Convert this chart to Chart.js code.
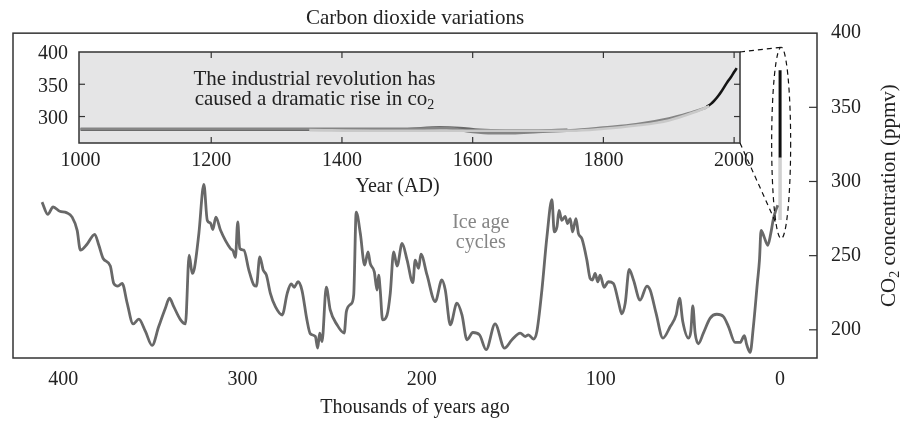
<!DOCTYPE html>
<html><head><meta charset="utf-8">
<script src="https://cdn.jsdelivr.net/npm/chart.js@4.4.1/dist/chart.umd.min.js"></script>
<style>
html,body{margin:0;padding:0;background:#fff;}
#wrap{position:relative;width:903px;height:422px;}
canvas{position:absolute;left:0;top:0;}
</style></head>
<body><div id="wrap"><canvas id="main" width="903" height="422"></canvas><canvas id="inset" width="903" height="422"></canvas></div>
<script>
// ---- Ice-age record (thousands of years ago, ppmv) ----
const iceKyrAgo = [411.8,408.6,405.6,401.9,398.2,395.0,392.2,390.4,386.7,382.4,380.1,377.7,373.7,371.8,369.5,367.1,364.3,361.0,357.8,354.1,350.4,346.7,343.0,340.7,338.3,334.5,331.8,329.7,328.0,326.8,324.3,321.5,319.6,317.8,316.5,314.8,312.2,306.7,305.2,303.9,302.6,301.5,299.2,296.4,293.6,292.2,290.3,288.4,286.6,284.4,281.6,277.8,275.0,272.8,271.1,269.0,266.8,264.0,262.1,259.3,258.0,256.9,255.6,253.2,251.0,247.2,243.2,242.0,239.4,237.9,236.5,234.2,231.8,229.9,228.7,226.4,224.9,224.0,223.1,221.8,219.3,217.5,215.6,213.7,210.9,208.1,204.9,203.6,201.7,200.4,197.0,192.4,188.7,186.8,184.0,180.3,177.5,174.7,171.4,167.7,164.0,159.0,153.8,149.6,145.0,142.2,140.4,137.6,135.7,132.9,130.1,127.3,126.0,124.5,123.3,121.8,119.9,118.6,117.1,115.8,113.9,112.5,110.6,107.8,106.0,104.7,103.2,101.7,100.4,98.2,95.8,93.0,90.2,88.3,86.4,84.2,81.8,78.1,74.3,72.5,69.2,65.4,61.3,58.0,56.1,54.3,51.1,49.8,48.7,47.4,45.6,42.8,39.0,35.3,31.6,28.8,25.1,22.3,19.9,18.6,16.7,14.9,12.7,11.5,10.6,8.9,6.9,5.2,3.7,2.4,1.3];
const iceCo2 = [286.1,277.9,282.8,279.9,279.0,276.0,267.0,253.7,257.7,264.4,257.0,248.1,243.0,231.3,229.5,231.3,218.0,204.0,207.2,198.9,189.5,202.2,214.5,221.3,215.6,206.7,204.0,250.3,238.0,241.4,264.9,298.0,273.8,272.0,267.6,276.0,267.1,254.8,253.2,248.8,272.7,254.8,253.7,240.3,230.2,229.5,249.2,240.3,236.9,224.6,215.6,210.0,224.6,230.9,228.7,232.4,226.8,206.7,197.3,195.5,187.7,197.8,192.1,228.7,213.4,203.4,197.8,212.3,217.4,223.5,279.4,264.9,243.6,252.6,244.8,239.1,226.8,236.9,226.8,206.7,210.0,224.6,252.6,243.0,258.2,247.0,231.8,247.0,241.4,251.0,237.0,219.0,233.6,226.8,203.4,218.0,210.0,193.3,198.2,196.6,186.6,204.0,187.7,193.3,197.8,195.5,196.6,193.8,198.9,226.8,262.6,287.7,266.0,269.4,280.5,273.8,276.5,271.6,275.0,266.0,275.0,264.9,261.5,247.0,234.7,233.6,238.0,232.4,236.9,228.7,232.4,231.3,219.0,210.7,218.0,240.7,233.6,220.1,229.5,226.8,211.2,194.4,202.2,210.0,221.3,205.6,194.4,198.9,216.1,197.8,190.6,197.8,207.9,210.5,208.9,202.2,191.5,191.5,196.0,189.9,184.8,202.2,231.3,247.0,267.1,262.6,257.0,264.9,275.0,280.5,283.9];
// recent rise shown as a vertical bar at 0 kyr
const recentBarKyr = [0, 0];
const recentLightPpm = [274, 316];
const recentBlackPpm = [316, 375];
const mainTicksKyr = [0, 100, 200, 300, 400];
const mainTicksPpm = [200, 250, 300, 350, 400];

// ---- Inset: last millennium (year AD, ppmv) ----
const insetYearTicks = [1000, 1200, 1400, 1600, 1800, 2000];
const insetPpmTicks = [300, 350, 400];
const insetDarkYears = [1000,1100,1200,1300,1400,1450,1500,1550,1580,1610,1650,1700,1745];
const insetDarkCo2   = [280,280,280,280,280,279,280,283,282,279,278,278,279];
const insetMidYears  = [1000,1200,1400,1500,1560,1600,1630,1660,1700,1750,1800,1850,1900,1930,1958];
const insetMidCo2    = [281,281,281,281,282,276,274,274,276,278.5,283,288,297,305,314];
const insetLightYears = [1350,1450,1500,1600,1700,1750,1800,1850,1900,1940,1962];
const insetLightCo2   = [279,278,278,278,278,278,281,286,294,307,316];
const maunaLoaYears = [1958,1965,1970,1975,1980,1985,1990,1995,2000,2004];
const maunaLoaCo2   = [315,320,325,331,338,346,354,361,369,375];

const FONT = '"Liberation Serif", "Times New Roman", serif';
const TXT = '#222';
const TS = 21;
const pts = (xs, ys) => xs.map((x, i) => ({x: x, y: ys[i]}));
const fixTicks = vals => (s => { s.ticks = vals.map(v => ({value: v})); });
const plain = v => String(v);

function drawParts(ctx, parts, cx, cy) {
  let total = 0;
  parts.forEach(p => { ctx.font = p.sub ? '14px ' + FONT : TS + 'px ' + FONT; p.w = ctx.measureText(p.t).width; total += p.w; });
  let x = cx - total / 2;
  ctx.textAlign = 'left'; ctx.textBaseline = 'middle';
  parts.forEach(p => { ctx.font = p.sub ? '14px ' + FONT : TS + 'px ' + FONT; ctx.fillText(p.t, x, cy + (p.sub ? 6 : 0)); x += p.w; });
}

const mainDeco = {
  id: 'mainDeco',
  afterDraw(chart) {
    const {ctx, chartArea: a, scales} = chart;
    ctx.save();
    ctx.strokeStyle = '#333'; ctx.lineWidth = 1.5;
    ctx.strokeRect(a.left, a.top, a.right - a.left, a.bottom - a.top);
    ctx.lineWidth = 1.2;
    [200, 250, 300, 350].forEach(v => {
      const y = scales.y.getPixelForValue(v);
      ctx.beginPath(); ctx.moveTo(a.right - 8, y); ctx.lineTo(a.right, y); ctx.stroke();
    });
    ctx.fillStyle = '#858585'; ctx.font = '20px ' + FONT; ctx.textAlign = 'center'; ctx.textBaseline = 'middle';
    const tx = scales.x.getPixelForValue(167);
    ctx.fillText('Ice age', tx, scales.y.getPixelForValue(272.5));
    ctx.fillText('cycles', tx, scales.y.getPixelForValue(259));
    ctx.fillStyle = TXT;
    ctx.translate(889, (a.top + a.bottom) / 2);
    ctx.rotate(-Math.PI / 2);
    drawParts(ctx, [{t: 'CO'}, {t: '2', sub: true}, {t: ' concentration (ppmv)'}], 0, 0);
    ctx.restore();
  }
};

const mainChart = new Chart(document.getElementById('main'), {
  type: 'line',
  data: {datasets: [
    {data: pts(iceKyrAgo, iceCo2), borderColor: '#686868', borderWidth: 2.8, pointRadius: 0, cubicInterpolationMode: 'monotone'},
    {data: pts(recentBarKyr, recentLightPpm), borderColor: '#d0d0d0', borderWidth: 3.5, pointRadius: 0},
    {data: pts(recentBarKyr, recentBlackPpm), borderColor: '#111', borderWidth: 3, pointRadius: 0}
  ]},
  options: {
    responsive: false, animation: false, devicePixelRatio: 1,
    layout: {padding: {left: 13}},
    plugins: {
      legend: {display: false}, tooltip: {enabled: false},
      title: {display: true, text: 'Carbon dioxide variations', fullSize: false, color: TXT,
              font: {family: FONT, size: TS, weight: 'normal', lineHeight: 1.15}, padding: {top: 6, bottom: 3}}
    },
    scales: {
      x: {type: 'linear', reverse: true, min: -20.6, max: 428,
          grid: {display: false, drawTicks: false}, border: {display: false},
          ticks: {color: TXT, font: {family: FONT, size: 20}, padding: 10, maxRotation: 0, callback: plain},
          title: {display: true, text: 'Thousands of years ago', color: TXT, font: {family: FONT, size: 20}, padding: {top: 0, bottom: 2}},
          afterBuildTicks: fixTicks(mainTicksKyr), afterFit: s => { s.height = 64; }},
      y: {type: 'linear', position: 'right', min: 181, max: 400,
          grid: {display: false, drawTicks: false}, border: {display: false},
          ticks: {color: TXT, font: {family: FONT, size: 20}, padding: 14, callback: plain},
          afterBuildTicks: fixTicks(mainTicksPpm), afterFit: s => { s.width = 86; }}
    }
  },
  plugins: [mainDeco]
});

const insetDeco = {
  id: 'insetDeco',
  beforeDatasetsDraw(chart) {
    const {ctx, chartArea: a} = chart;
    ctx.save(); ctx.fillStyle = '#e5e5e6';
    ctx.fillRect(a.left, a.top, a.right - a.left, a.bottom - a.top); ctx.restore();
  },
  afterDraw(chart) {
    const {ctx, chartArea: a, scales} = chart;
    ctx.save();
    ctx.strokeStyle = '#333'; ctx.lineWidth = 1.5;
    ctx.strokeRect(a.left, a.top, a.right - a.left, a.bottom - a.top);
    ctx.lineWidth = 1.2;
    insetYearTicks.slice(1).forEach(v => {
      const x = scales.x.getPixelForValue(v);
      ctx.beginPath(); ctx.moveTo(x, a.top); ctx.lineTo(x, a.top + 6); ctx.stroke();
      ctx.beginPath(); ctx.moveTo(x, a.bottom); ctx.lineTo(x, a.bottom - 6); ctx.stroke();
    });
    [300, 350].forEach(v => {
      const y = scales.y.getPixelForValue(v);
      ctx.beginPath(); ctx.moveTo(a.left, y); ctx.lineTo(a.left + 6, y); ctx.stroke();
      ctx.beginPath(); ctx.moveTo(a.right, y); ctx.lineTo(a.right - 6, y); ctx.stroke();
    });
    ctx.fillStyle = TXT; ctx.font = TS + 'px ' + FONT; ctx.textAlign = 'center'; ctx.textBaseline = 'middle';
    const cx = scales.x.getPixelForValue(1358);
    ctx.fillText('The industrial revolution has', cx, 79);
    drawParts(ctx, [{t: 'caused a dramatic rise in co'}, {t: '2', sub: true}], cx, 99);
    ctx.textAlign = 'center';
    ctx.font = '20px ' + FONT;
    ctx.fillText('Year (AD)', scales.x.getPixelForValue(1485), 187);
    // zoom ellipse and connectors (on the main chart's scales)
    const mx = mainChart.scales.x, my = mainChart.scales.y;
    const ex = mx.getPixelForValue(-0.6);
    const rx = Math.abs(mx.getPixelForValue(-5.9) - ex);
    const eTop = my.getPixelForValue(390.5), eBot = my.getPixelForValue(261.5);
    const ey = (eTop + eBot) / 2, ry = (eBot - eTop) / 2;
    ctx.strokeStyle = '#111'; ctx.lineWidth = 1.2; ctx.setLineDash([5, 4]);
    ctx.beginPath(); ctx.ellipse(ex, ey, rx, ry, 0, 0, Math.PI * 2); ctx.stroke();
    ctx.beginPath(); ctx.moveTo(a.right, a.top); ctx.lineTo(ex, eTop); ctx.stroke();
    const py = my.getPixelForValue(272);
    const px = ex - rx * Math.sqrt(Math.max(0, 1 - Math.pow((py - ey) / ry, 2)));
    ctx.beginPath(); ctx.moveTo(a.right, a.bottom); ctx.lineTo(px, py); ctx.stroke();
    ctx.restore();
  }
};

new Chart(document.getElementById('inset'), {
  type: 'line',
  data: {datasets: [
    {data: pts(insetLightYears, insetLightCo2), borderColor: '#c9c9c9', borderWidth: 2.6, pointRadius: 0, cubicInterpolationMode: 'monotone'},
    {data: pts(insetMidYears, insetMidCo2), borderColor: '#858585', borderWidth: 2.6, pointRadius: 0, cubicInterpolationMode: 'monotone'},
    {data: pts(insetDarkYears, insetDarkCo2), borderColor: '#6a6a6a', borderWidth: 3, pointRadius: 0, cubicInterpolationMode: 'monotone'},
    {data: pts(maunaLoaYears, maunaLoaCo2), borderColor: '#151515', borderWidth: 2.6, pointRadius: 0, cubicInterpolationMode: 'monotone'}
  ]},
  options: {
    responsive: false, animation: false, devicePixelRatio: 1,
    layout: {padding: {top: 52, right: 163, bottom: 249, left: 0}},
    plugins: {legend: {display: false}, tooltip: {enabled: false}},
    scales: {
      x: {type: 'linear', min: 997.7, max: 2009,
          grid: {display: false, drawTicks: false}, border: {display: false},
          ticks: {color: TXT, font: {family: FONT, size: 20}, padding: 6, maxRotation: 0, callback: plain},
          afterBuildTicks: fixTicks(insetYearTicks), afterFit: s => { s.height = 30; }},
      y: {type: 'linear', min: 259, max: 400,
          grid: {display: false, drawTicks: false}, border: {display: false},
          ticks: {color: TXT, font: {family: FONT, size: 20}, padding: 11, labelOffset: 2, callback: plain},
          afterBuildTicks: fixTicks(insetPpmTicks), afterFit: s => { s.width = 79; }}
    }
  },
  plugins: [insetDeco]
});
</script>
</body></html>
